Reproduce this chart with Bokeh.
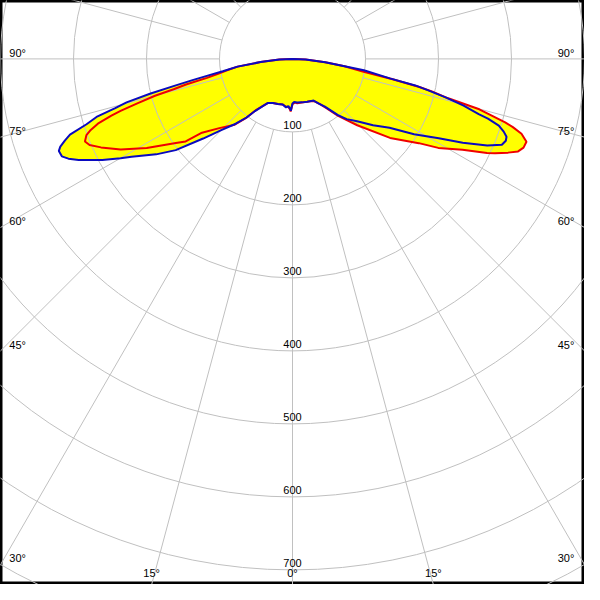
import numpy as np
from bokeh.plotting import figure
from bokeh.models import Range1d
from bokeh.embed import file_html
from bokeh.resources import INLINE
from bokeh.core.properties import value

# Luminous intensity (cd) against angle from nadir (deg); negative = left side
blue_angle = [-90, -87, -84.3, -82, -80, -78.7, -78, -77.2, -76.3, -75.3,
              -74.5, -73.5, -72.4, -71.2, -70.3, -69.3, -68.5, -67.1, -66, -64.7,
              -62, -60, -58.7, -55, -52, -48.3, -45, -41.2, -38.1, -35.7,
              -32, -29, -24, -18, -12, -7.6, -5, -3, -1.8, -1,
              0, 2.2, 6, 12.5, 19, 24, 26.8, 30.5, 34.2, 39,
              42, 46, 50.5, 54.6, 58.2, 61.5, 63.8, 66, 67.7, 69,
              70, 71, 72.1, 73, 73.5, 74.7, 75.8, 77, 77.8, 78.7,
              80.9, 84.3, 87, 90]
blue_cd = [0, 18, 44, 76, 97, 122, 140, 165, 200, 235,
           252, 280, 296, 322, 331, 340, 344, 343, 336, 324,
           295, 272, 258, 228, 203, 164, 138, 118, 102, 88,
           76, 69, 66, 65, 64, 67, 65, 68, 71, 66,
           61, 59, 60, 61, 62, 63, 64, 71, 79, 99,
           111, 123, 143, 163, 196, 228, 260, 292, 310, 313,
           312, 306, 297, 280, 266, 243, 218, 190, 172, 136,
           99, 45, 18, 0]

red_angle = [-90, -87, -84.3, -82, -80, -78.5, -77.5, -76.5, -75.7, -75,
             -74, -73.2, -72.6, -71.6, -70.6, -69.7, -68.3, -67, -65.2, -62.2,
             -58.6, -54.2, -52.3, -50.8, -46.6, -41.3, -38, -35.7, -32, -29,
             -24, -18, -12, -8, -5, -3, -2, -1, 0, 3,
             6, 12, 19, 24, 27, 31, 34.5, 38.7, 44.3, 51,
             56.3, 58.6, 61.9, 64.2, 65, 66.5, 67.7, 69, 70.5, 71.9,
             72.8, 73.4, 74.9, 75.8, 76.9, 77.5, 78.5, 79.7, 82, 84.3,
             87, 90]
red_cd = [0, 18, 44, 76, 92, 105, 120, 150, 168, 195,
          222, 246, 260, 281, 293, 301, 306, 302, 289, 266,
          234, 197, 185, 160, 138, 120, 102, 87, 76, 69,
          66, 65, 64, 66, 66, 69, 72, 67, 62, 60,
          61, 61, 62, 63, 65, 72, 82, 100, 127, 172,
          208, 234, 264, 296, 306, 322, 334, 339, 340, 330,
          316, 304, 265, 220, 196, 178, 140, 99, 72, 45,
          18, 0]

ring_values = [100, 200, 300, 400, 500, 600, 700, 800]
ring_labels = ["100", "200", "300", "400", "500", "600", "700"]
spoke_angles = list(range(0, 360, 15))
angle_ticks = [0, 15, 30, 45, 60, 75, 90]

XMIN, XMAX, YMIN, YMAX = -400, 400, -720, 80
GRID = "#c0c0c0"
FONT = value("Liberation Sans")
FSIZE = value("11px")


def to_xy(ang, cd):
    a = np.radians(np.asarray(ang, dtype=float))
    r = np.asarray(cd, dtype=float)
    return r * np.sin(a), -r * np.cos(a)


p = figure(width=584, height=584, x_range=Range1d(XMIN, XMAX), y_range=Range1d(YMIN, YMAX),
           output_backend="svg", toolbar_location=None, min_border=0,
           x_axis_type=None, y_axis_type=None)
p.xgrid.visible = False
p.ygrid.visible = False
p.background_fill_color = "white"
p.border_fill_color = "white"
p.outline_line_color = "black"
p.outline_line_width = 4

bx, by = to_xy(blue_angle, blue_cd)
rx, ry = to_xy(red_angle, red_cd)

# yellow fill (union of both curves)
p.patch(bx, by, fill_color="#ffff00", line_color=None)
p.patch(rx, ry, fill_color="#ffff00", line_color=None)

# grid: rings and spokes
p.circle(x=[0] * len(ring_values), y=[0] * len(ring_values), radius=ring_values,
         fill_color=None, line_color=GRID, line_width=1)
sa = np.radians(spoke_angles)
r0, r1 = ring_values[0], 1300
p.segment(x0=r0 * np.sin(sa), y0=-r0 * np.cos(sa), x1=r1 * np.sin(sa), y1=-r1 * np.cos(sa),
          line_color=GRID, line_width=1)

# curves
p.line(rx, ry, line_color="#f00000", line_width=2)
p.line(bx, by, line_color="#0a0ac0", line_width=2)

# ring labels
rl_y = [-v + 9.5 for v in ring_values[:len(ring_labels)]]
p.text(x=[0] * len(ring_labels), y=rl_y, text=ring_labels, text_font=FONT,
       text_font_size=FSIZE, text_align="center", text_baseline="middle", text_color="black")

# angle labels
lx, ly, lt = [], [], []
cx, cy, ct = [], [], []
rxl, ryl, rtl = [], [], []
for a in angle_ticks:
    t = f"{a}°"
    if a < 90:
        xb = (-YMIN) * np.tan(np.radians(a))
    else:
        xb = 1e9
    if xb <= XMAX:
        sides = [0] if a == 0 else [-1, 1]
        for s in sides:
            cx.append(s * xb if s else 0)
            cy.append(YMIN + 16)
            ct.append(t)
    else:
        yl = 0.0 if a == 90 else -XMAX / np.tan(np.radians(a))
        lx.append(XMIN + 12); ly.append(yl + 8.5); lt.append(t)
        rxl.append(XMAX - 14); ryl.append(yl + 8.5); rtl.append(t)

p.text(x=lx, y=ly, text=lt, text_font=FONT, text_font_size=FSIZE,
       text_align="left", text_baseline="middle", text_color="black")
p.text(x=rxl, y=ryl, text=rtl, text_font=FONT, text_font_size=FSIZE,
       text_align="right", text_baseline="middle", text_color="black")
p.text(x=cx, y=cy, text=ct, text_font=FONT, text_font_size=FSIZE,
       text_align="center", text_baseline="middle", text_color="black")

open("out.html", "w").write(file_html(p, INLINE))
